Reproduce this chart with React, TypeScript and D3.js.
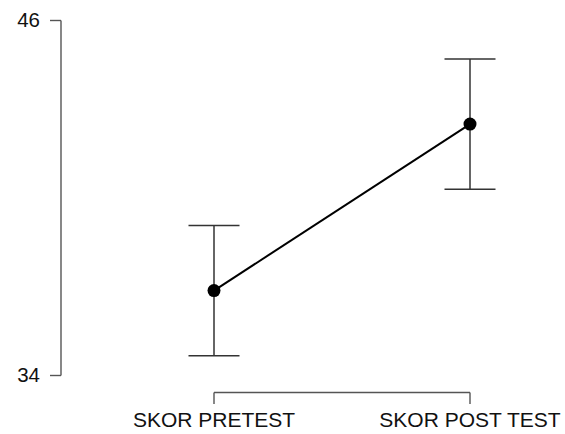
import React from "react";
import * as d3 from "d3";

const categories = ["SKOR PRETEST", "SKOR POST TEST"];
const means = [36.87, 42.5];
const errors = [2.2, 2.2];
const yTicks = [34, 46];

const W = 565;
const H = 434;

export default function App() {
  const x = d3.scalePoint<string>().domain(categories).range([214, 470]);
  const y = d3.scaleLinear().domain([34, 46]).range([375.5, 20.5]);
  const line = d3
    .line<number>()
    .x((_, i) => x(categories[i]) as number)
    .y((d) => y(d));
  const font = "'Liberation Sans', Arial, sans-serif";
  const axisColor = "#555";
  return (
    <svg
      width={W}
      height={H}
      style={{ position: "absolute", left: 0, top: 0, background: "#fff" }}
      fontFamily={font}
    >
      {/* Y axis */}
      <line x1={61} x2={61} y1={y(46)} y2={y(34)} stroke={axisColor} strokeWidth={1.4} />
      {yTicks.map((t) => (
        <g key={t}>
          <line x1={50} x2={61} y1={y(t)} y2={y(t)} stroke={axisColor} strokeWidth={1.4} />
          <text x={40} y={y(t)} dy="0.33em" textAnchor="end" fontSize={20.5} fill="#111">
            {t}
          </text>
        </g>
      ))}
      {/* X axis */}
      <line
        x1={x(categories[0])}
        x2={x(categories[1])}
        y1={392.5}
        y2={392.5}
        stroke={axisColor}
        strokeWidth={1.4}
      />
      {categories.map((c) => (
        <g key={c}>
          <line x1={x(c)} x2={x(c)} y1={392.5} y2={404} stroke={axisColor} strokeWidth={1.4} />
          <text x={x(c)} y={427} textAnchor="middle" fontSize={21} fill="#111">
            {c}
          </text>
        </g>
      ))}
      {/* Error bars */}
      {categories.map((c, i) => {
        const cx = x(c) as number;
        const top = y(means[i] + errors[i]);
        const bot = y(means[i] - errors[i]);
        return (
          <g key={"e" + c} stroke="#333" strokeWidth={1.5}>
            <line x1={cx} x2={cx} y1={top} y2={bot} />
            <line x1={cx - 25.5} x2={cx + 25.5} y1={top} y2={top} />
            <line x1={cx - 25.5} x2={cx + 25.5} y1={bot} y2={bot} />
          </g>
        );
      })}
      {/* Line */}
      <path d={line(means) || ""} fill="none" stroke="#000" strokeWidth={2} />
      {categories.map((c, i) => (
        <circle key={"p" + c} cx={x(c)} cy={y(means[i])} r={6.5} fill="#000" />
      ))}
    </svg>
  );
}
